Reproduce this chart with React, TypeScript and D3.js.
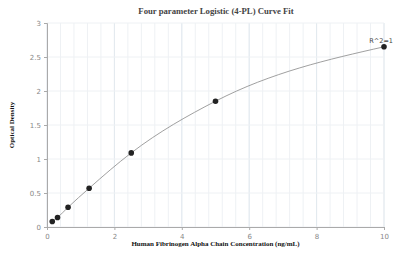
import React, { useEffect, useRef } from 'react';
import * as d3 from 'd3';

const concentrations = [0.156, 0.3125, 0.625, 1.25, 2.5, 5, 10];
const densities = [0.08, 0.14, 0.29, 0.57, 1.09, 1.85, 2.65];
const xTicks = [0, 2, 4, 6, 8, 10];
const yTicks = [0, 0.5, 1, 1.5, 2, 2.5, 3];

const App: React.FC = () => {
  const svgRef = useRef<SVGSVGElement>(null);
  const width = 393;
  const height = 255;

  useEffect(() => {
    const svg = d3.select(svgRef.current);
    svg.selectAll('*').remove();

    const margin = { top: 23, right: 9, bottom: 28, left: 47 };
    const innerWidth = width - margin.left - margin.right;
    const innerHeight = height - margin.top - margin.bottom;

    const x = d3.scaleLinear().domain([0, 10]).range([0, innerWidth]);
    const y = d3.scaleLinear().domain([0, 3]).range([innerHeight, 0]);

    const g = svg.append('g').attr('transform', `translate(${margin.left},${margin.top})`);

    // minor vertical grid every 0.4
    const minor = d3.range(0, 10.001, 0.4);
    g.selectAll('.vgrid')
      .data(minor)
      .enter()
      .append('line')
      .attr('x1', d => x(d))
      .attr('x2', d => x(d))
      .attr('y1', 0)
      .attr('y2', innerHeight)
      .attr('stroke', '#eef1f4')
      .attr('stroke-width', 1);

    g.selectAll('.vmajor')
      .data(xTicks)
      .enter()
      .append('line')
      .attr('x1', d => x(d))
      .attr('x2', d => x(d))
      .attr('y1', 0)
      .attr('y2', innerHeight)
      .attr('stroke', '#e2e9ef')
      .attr('stroke-width', 1);

    g.selectAll('.hgrid')
      .data(yTicks)
      .enter()
      .append('line')
      .attr('x1', 0)
      .attr('x2', innerWidth)
      .attr('y1', d => y(d))
      .attr('y2', d => y(d))
      .attr('stroke', '#eef1f4')
      .attr('stroke-width', 1);

    // axes
    const xAxis = g.append('g')
      .attr('transform', `translate(0,${innerHeight})`)
      .call(d3.axisBottom(x).tickValues(xTicks).tickSize(3).tickFormat(d3.format('d')));
    const yAxis = g.append('g')
      .call(d3.axisLeft(y).tickValues(yTicks).tickSize(3).tickFormat(d => String(d)));

    [xAxis, yAxis].forEach(a => {
      a.select('.domain').attr('stroke', '#aaa');
      a.selectAll('line').attr('stroke', '#aaa');
      a.selectAll('text')
        .attr('fill', '#888')
        .attr('font-size', '7px')
        .attr('font-family', 'DejaVu Sans, sans-serif');
    });
    xAxis.selectAll('text').attr('dy', '0.9em');

    const pts = concentrations.map((c, i) => [c, densities[i]] as [number, number]);

    const line = d3.line<[number, number]>()
      .x(d => x(d[0]))
      .y(d => y(d[1]))
      .curve(d3.curveMonotoneX);

    g.append('path')
      .datum(pts)
      .attr('d', line)
      .attr('fill', 'none')
      .attr('stroke', '#888')
      .attr('stroke-width', 0.8);

    g.selectAll('.pt')
      .data(pts)
      .enter()
      .append('circle')
      .attr('cx', d => x(d[0]))
      .attr('cy', d => y(d[1]))
      .attr('r', 2.8)
      .attr('fill', '#222');

    g.append('text')
      .attr('x', innerWidth + 9)
      .attr('y', y(densities[densities.length - 1]) - 4)
      .attr('text-anchor', 'end')
      .attr('font-size', '6.5px')
      .attr('font-family', 'DejaVu Sans, sans-serif')
      .attr('fill', '#444')
      .text('R^2=1');

    // title
    svg.append('text')
      .attr('x', 216)
      .attr('y', 14)
      .attr('text-anchor', 'middle')
      .attr('font-size', '8.7px')
      .attr('font-weight', 'bold')
      .attr('font-family', 'Liberation Serif, serif')
      .attr('fill', '#444')
      .text('Four parameter Logistic (4-PL) Curve Fit');

    svg.append('text')
      .attr('x', 215.5)
      .attr('y', 246)
      .attr('text-anchor', 'middle')
      .attr('font-size', '7px')
      .attr('font-weight', 'bold')
      .attr('font-family', 'Liberation Serif, serif')
      .attr('fill', '#111')
      .text('Human Fibrinogen Alpha Chain Concentration (ng/mL)');

    svg.append('text')
      .attr('transform', `translate(14,${margin.top + innerHeight / 2}) rotate(-90)`)
      .attr('text-anchor', 'middle')
      .attr('font-size', '7px')
      .attr('font-weight', 'bold')
      .attr('font-family', 'Liberation Serif, serif')
      .attr('fill', '#111')
      .text('Optical Density');
  }, []);

  return (
    <svg
      ref={svgRef}
      width={width}
      height={height}
      style={{ position: 'absolute', left: 0, top: 0, background: '#fff' }}
    />
  );
};

export default App;
